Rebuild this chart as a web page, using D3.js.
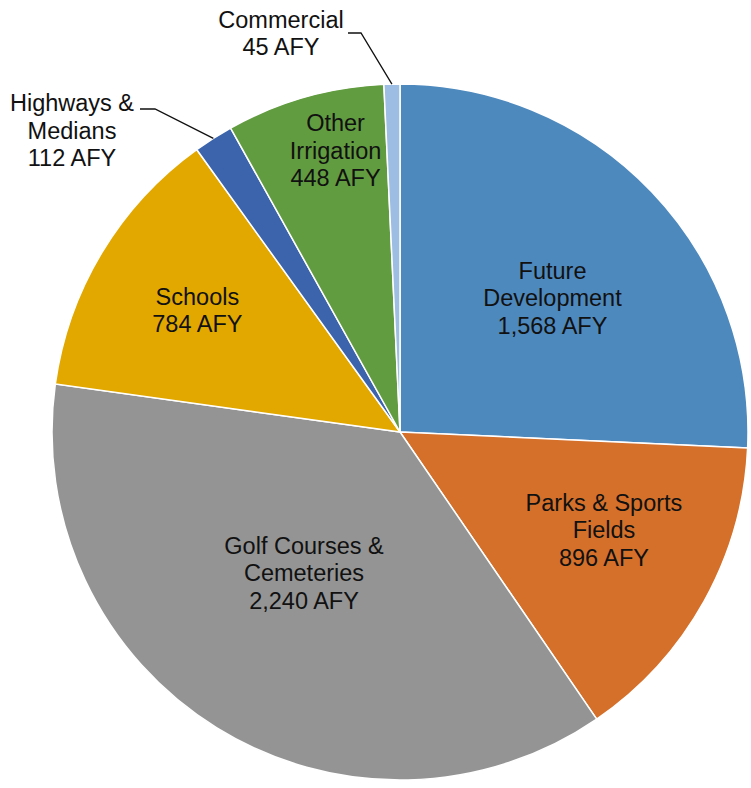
<!DOCTYPE html>
<html>
<head>
<meta charset="utf-8">
<script src="https://cdn.jsdelivr.net/npm/d3@7"></script>
<style>
  body { margin: 0; background: #fff; }
  svg text { font-family: "Liberation Sans", Arial, sans-serif; font-size: 23.5px; fill: #111; }
</style>
</head>
<body>
<svg id="chart" width="751" height="788"></svg>
<script>
// data, clockwise from 12 o'clock
const categories = ["Future Development", "Parks & Sports Fields", "Golf Courses & Cemeteries",
                    "Schools", "Highways & Medians", "Other Irrigation", "Commercial"];
const values = [1568, 896, 2240, 784, 112, 448, 45];
const colors = ["#4e89be", "#d5702b", "#949494", "#e2a800", "#3b64ad", "#629c40", "#9dbde3"];
// how each label is broken into lines
const labelLines = [
    ["Future", "Development"],
    ["Parks & Sports", "Fields"],
    ["Golf Courses &", "Cemeteries"],
    ["Schools"],
    ["Highways &", "Medians"],
    ["Other", "Irrigation"],
    ["Commercial"]
];

const cx = 400, cy = 432, radius = 348;
const fmt = d3.format(",");

const svg = d3.select("#chart");
const g = svg.append("g").attr("transform", `translate(${cx},${cy})`);

const pie = d3.pie().sort(null).value(d => d.value);
const arcs = pie(categories.map((c, i) => ({ name: c, value: values[i], color: colors[i], lines: labelLines[i] })));

const arc = d3.arc().innerRadius(0).outerRadius(radius);

g.selectAll("path.slice")
    .data(arcs)
    .enter()
    .append("path")
    .attr("class", "slice")
    .attr("d", arc)
    .attr("fill", d => d.data.color)
    .attr("stroke", "#fff")
    .attr("stroke-width", 1.5);

// label placement: inside labels pushed along the mid angle, small ones go outside with a leader
const inside = {
    "Future Development": { r: 0.584, da: 2.3 },
    "Parks & Sports Fields": { r: 0.65, da: -3.5 },
    "Golf Courses & Cemeteries": { r: 0.49, da: 2.5 },
    "Schools": { r: 0.68, da: 0 },
    "Other Irrigation": { r: 0.83, da: 3 }
};
const outside = {
    "Highways & Medians": { x: -328, y: -302, lx: -245, ly: -323, len: 15 },
    "Commercial": { x: -119, y: -399, lx: -39, ly: -399, len: 13 }
};

const lineH = 27.5;

arcs.forEach(d => {
    const name = d.data.name;
    const lines = d.data.lines.concat([fmt(d.data.value) + " AFY"]);
    let x, y;
    if (inside[name]) {
        const p = inside[name];
        const a = (d.startAngle + d.endAngle) / 2 + p.da * Math.PI / 180;
        x = Math.sin(a) * radius * p.r;
        y = -Math.cos(a) * radius * p.r;
    } else {
        const p = outside[name];
        const a = (d.startAngle + d.endAngle) / 2;
        const ex = Math.sin(a) * radius, ey = -Math.cos(a) * radius;
        g.append("polyline")
            .attr("points", [[ex, ey], [p.lx, p.ly], [p.lx - p.len, p.ly]].map(q => q.join(",")).join(" "))
            .attr("fill", "none")
            .attr("stroke", "#111")
            .attr("stroke-width", 1.3);
        x = p.x;
        y = p.y;
    }
    const t = g.append("text").attr("text-anchor", "middle");
    lines.forEach((s, i) => {
        t.append("tspan")
            .attr("x", x)
            .attr("y", y + (i - (lines.length - 1) / 2) * lineH + 8.5)
            .text(s);
    });
});
</script>
</body>
</html>
